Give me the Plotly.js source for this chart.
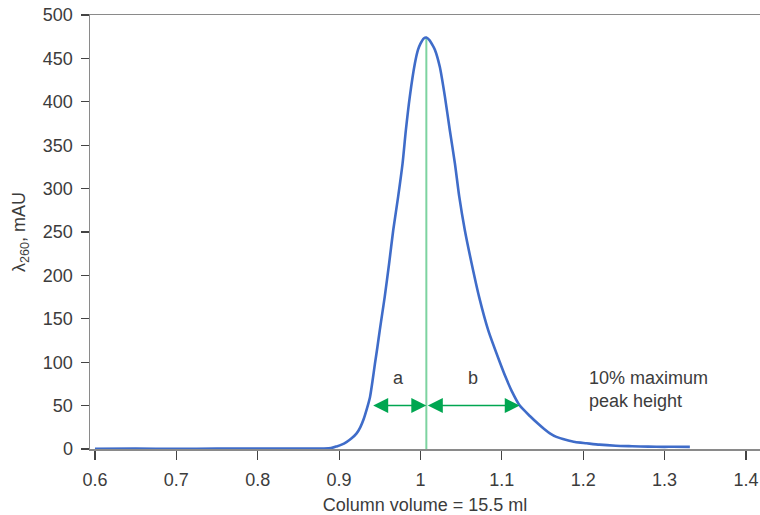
<!DOCTYPE html>
<html>
<head>
<meta charset="utf-8">
<script src="https://cdn.plot.ly/plotly-3.0.1.min.js"></script>
<style>html,body{margin:0;padding:0;background:#fff;}#chart{width:760px;height:515px;}</style>
</head>
<body>
<div id="chart"></div>
<script>
// Column volume (fraction) and absorbance at 260 nm (mAU)
const volume = [0.600,0.650,0.700,0.750,0.800,0.850,0.880,0.890,0.897,0.903,0.909,0.915,0.9215,0.926,0.930,0.934,0.938,0.941,0.944,0.947,0.950,0.953,0.956,0.9615,0.9665,0.9726,0.978,0.982,0.9869,0.9931,0.997,1.000,1.004,1.0072,1.011,1.015,1.0177,1.0238,1.030,1.0361,1.0423,1.0476,1.0545,1.0628,1.0721,1.0832,1.0975,1.105,1.112,1.122,1.1344,1.1446,1.152,1.159,1.167,1.1795,1.190,1.204,1.220,1.240,1.260,1.280,1.300,1.310,1.331];
const absorbance = [0.3,0.4,0.3,0.4,0.5,0.4,0.6,1.0,3,5,8,12,18,25,34,46,60,78,98,117,137,156,175,214,252,291,329,367,406,444,460,467,473,474,471,465,460,440,406,367,329,291,252,214,175,137,100,82,67,50,38,29,23,18,14,10.4,8,6.6,5,3.8,3.2,2.7,2.5,2.6,2.4];

const peakVolume = 1.0072;
const peakHeight = 474;
const tenPctLevel = 50;
const leftEdge = 0.940;
const rightEdge = 1.122;

const xTicks = [0.6,0.7,0.8,0.9,1.0,1.1,1.2,1.3,1.4];
const xTickText = ["0.6","0.7","0.8","0.9","1","1.1","1.2","1.3","1.4"];
const yTicks = [0,50,100,150,200,250,300,350,400,450,500];

const textFont = {family: "Liberation Sans, Arial, sans-serif", size: 18, color: "#3c3c3c"};
const arrowGreen = "#00a651";

const traces = [
  {x: [peakVolume, peakVolume], y: [0, peakHeight], mode: "lines",
   line: {color: "#7dd3a0", width: 2}, hoverinfo: "skip", showlegend: false},
  {x: volume, y: absorbance, mode: "lines",
   line: {color: "#3f6cc9", width: 2.6, shape: "spline", smoothing: 0.6}, showlegend: false}
];

function dblArrow(x0, x1, y) {
  return {x: x1, y: y, ax: x0, ay: y, xref: "x", yref: "y", axref: "x", ayref: "y",
    showarrow: true, arrowhead: 2, startarrowhead: 2, arrowside: "end+start",
    arrowsize: 2, startarrowsize: 2, arrowwidth: 1.5, arrowcolor: arrowGreen,
    standoff: 0, startstandoff: 0, text: ""};
}

const layout = {
  width: 760, height: 515,
  margin: {l: 90, r: 0, t: 15, b: 66},
  paper_bgcolor: "#fff", plot_bgcolor: "#fff",
  font: textFont,
  showlegend: false,
  xaxis: {
    range: [0.5939, 1.4172], tickvals: xTicks, ticktext: xTickText,
    ticks: "outside", ticklen: 9, tickcolor: "#444", tickwidth: 1.2,
    showline: true, linecolor: "#8a8a8a", linewidth: 1.5, mirror: true,
    showgrid: false, zeroline: false,
    tickfont: {size: 18, color: "#3c3c3c"},
    ticklabelstandoff: 5,
    title: {text: "Column volume = 15.5 ml", font: {size: 18, color: "#3c3c3c"}, standoff: 10}
  },
  yaxis: {
    range: [0, 500], tickvals: yTicks,
    ticks: "outside", ticklen: 8, tickcolor: "#444", tickwidth: 1.2,
    showline: true, linecolor: "#8a8a8a", linewidth: 1.5,
    showgrid: false, zeroline: false,
    tickfont: {size: 18, color: "#3c3c3c"},
    ticklabelstandoff: 4,
    title: {text: "λ<sub>260</sub>, mAU", font: {size: 18, color: "#3c3c3c"}, standoff: 12}
  },
  annotations: [
    dblArrow(leftEdge, peakVolume, tenPctLevel),
    dblArrow(peakVolume, rightEdge, tenPctLevel),
    {x: 0.9735, y: 82, xref: "x", yref: "y", text: "a", showarrow: false, font: textFont},
    {x: 1.0644, y: 82, xref: "x", yref: "y", text: "b", showarrow: false, font: textFont},
    {x: 1.2044, y: 68, xref: "x", yref: "y", xanchor: "left", align: "left",
     text: "10% maximum<br>peak height", showarrow: false, font: textFont}
  ]
};

Plotly.newPlot("chart", traces, layout, {displayModeBar: false, staticPlot: true});
</script>
</body>
</html>
